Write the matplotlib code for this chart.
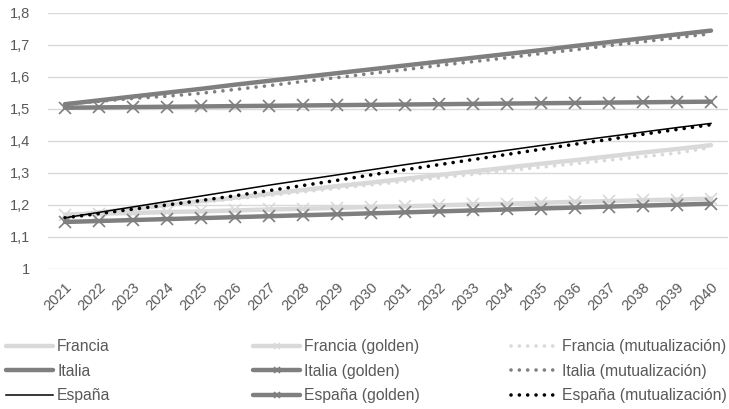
import matplotlib
matplotlib.use("Agg")
import matplotlib.pyplot as plt

plt.rcParams['font.family'] = ['Liberation Sans', 'DejaVu Sans']

years = [str(y) for y in range(2021, 2041)]

francia = [1.165, 1.177, 1.188, 1.200, 1.212, 1.223, 1.235, 1.247, 1.259, 1.270,
           1.282, 1.294, 1.305, 1.317, 1.329, 1.340, 1.352, 1.364, 1.375, 1.387]
francia_golden = [1.170, 1.173, 1.175, 1.178, 1.180, 1.183, 1.186, 1.188, 1.191, 1.194,
                  1.196, 1.199, 1.202, 1.204, 1.207, 1.210, 1.212, 1.215, 1.217, 1.220]
francia_mut = [1.165, 1.175, 1.186, 1.197, 1.208, 1.219, 1.230, 1.241, 1.252, 1.263,
               1.274, 1.285, 1.296, 1.307, 1.318, 1.329, 1.340, 1.351, 1.362, 1.380]

italia = [1.515, 1.527, 1.539, 1.551, 1.563, 1.576, 1.588, 1.600, 1.612, 1.624,
          1.636, 1.648, 1.660, 1.672, 1.684, 1.697, 1.709, 1.721, 1.733, 1.745]
italia_golden = [1.504, 1.505, 1.506, 1.507, 1.508, 1.509, 1.510, 1.511, 1.512, 1.513,
                 1.514, 1.515, 1.516, 1.517, 1.518, 1.519, 1.520, 1.521, 1.522, 1.523]
italia_mut = [1.515, 1.524, 1.533, 1.540, 1.549, 1.561, 1.573, 1.586, 1.598, 1.611,
              1.623, 1.636, 1.648, 1.660, 1.673, 1.685, 1.698, 1.710, 1.723, 1.735]

espana = [1.160, 1.177, 1.194, 1.211, 1.228, 1.245, 1.262, 1.278, 1.294, 1.310,
          1.326, 1.341, 1.356, 1.371, 1.386, 1.400, 1.414, 1.428, 1.442, 1.455]
espana_golden = [1.147, 1.150, 1.153, 1.156, 1.159, 1.162, 1.165, 1.168, 1.171, 1.174,
                 1.177, 1.180, 1.183, 1.186, 1.189, 1.192, 1.195, 1.198, 1.201, 1.204]
espana_mut = [1.160, 1.173, 1.187, 1.200, 1.214, 1.229, 1.245, 1.261, 1.277, 1.294,
              1.310, 1.326, 1.342, 1.358, 1.374, 1.390, 1.405, 1.421, 1.436, 1.451]

y_ticks = [1.0, 1.1, 1.2, 1.3, 1.4, 1.5, 1.6, 1.7, 1.8]
y_labels = ["1", "1,1", "1,2", "1,3", "1,4", "1,5", "1,6", "1,7", "1,8"]

LIGHT = "#d9d9d9"
MID = "#7f7f7f"
DARK = "#000000"
TEXT = "#595959"

fig = plt.figure(figsize=(7.29, 4.09), dpi=100)
ax = fig.add_axes([48 / 729, 1 - 269 / 409, 680 / 729, 256 / 409])

x = list(range(len(years)))
dot = (0, (0.01, 2.3))

ax.plot(x, francia, color=LIGHT, lw=3.2, solid_capstyle='round', label="Francia", zorder=2)
ax.plot(x, francia_golden, color=LIGHT, lw=3.2, marker='x', ms=8, mew=1.2,
        solid_capstyle='round', label="Francia (golden)", zorder=2)
ax.plot(x, francia_mut, color=LIGHT, lw=2.6, linestyle=dot, dash_capstyle='round',
        label="Francia (mutualización)", zorder=2)

ax.plot(x, italia, color=MID, lw=3.2, solid_capstyle='round', label="Italia", zorder=3)
ax.plot(x, italia_golden, color=MID, lw=3.2, marker='x', ms=8, mew=1.2,
        solid_capstyle='round', label="Italia (golden)", zorder=3)
ax.plot(x, italia_mut, color=MID, lw=2.6, linestyle=dot, dash_capstyle='round',
        label="Italia (mutualización)", zorder=3)

ax.plot(x, espana, color=DARK, lw=1.1, label="España", zorder=4)
ax.plot(x, espana_golden, color=MID, lw=3.2, marker='x', ms=8, mew=1.2,
        solid_capstyle='round', label="España (golden)", zorder=3)
ax.plot(x, espana_mut, color=DARK, lw=2.6, linestyle=dot, dash_capstyle='round',
        label="España (mutualización)", zorder=4)

ax.set_xlim(-0.5, len(years) - 0.5)
ax.set_ylim(1.0, 1.8)
ax.set_yticks(y_ticks)
ax.set_yticklabels(y_labels)
ax.set_xticks(x)
ax.set_xticklabels(years, rotation=45, ha='right', va='top', rotation_mode='anchor')
ax.tick_params(axis='both', length=0, labelsize=10.5, colors=TEXT)
ax.tick_params(axis='x', pad=8)
ax.tick_params(axis='y', pad=13)
ax.grid(axis='y', color=LIGHT, lw=1)
ax.set_axisbelow(True)
for s in ax.spines.values():
    s.set_visible(False)

handles, labels = ax.get_legend_handles_labels()
order = [[0, 3, 6], [1, 4, 7], [2, 5, 8]]
col_x = [6, 253, 511]
for cx, idx in zip(col_x, order):
    fig.legend([handles[i] for i in idx], [labels[i] for i in idx],
               loc='upper left', bbox_to_anchor=(cx / 729, 1 - 339 / 409),
               frameon=False, fontsize=11.3, handlelength=3.0, handletextpad=0.25,
               labelspacing=0.62, borderpad=0, borderaxespad=0, labelcolor=TEXT,
               markerscale=0.55)

fig.savefig("out.png", dpi=100)
